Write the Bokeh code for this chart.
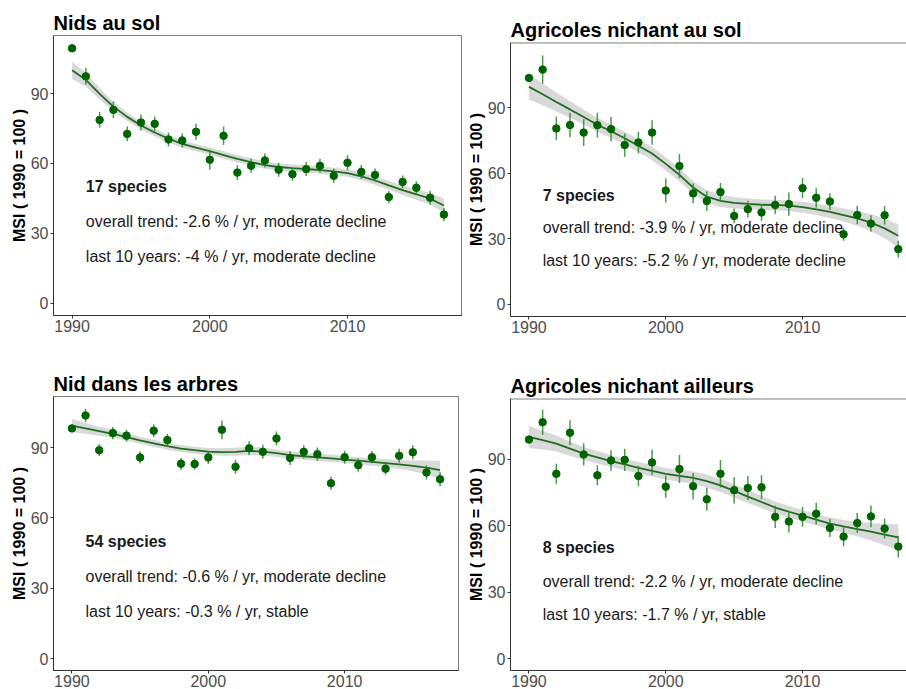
from bokeh.plotting import figure
from bokeh.layouts import column, row
from bokeh.models import Range1d, FixedTicker, Span
from bokeh.core.properties import value
from bokeh.embed import file_html
from bokeh.resources import INLINE

# ---------------- data ----------------
years = [1990, 1991, 1992, 1993, 1994, 1995, 1996, 1997, 1998, 1999,
         2000, 2001, 2002, 2003, 2004, 2005, 2006, 2007, 2008, 2009,
         2010, 2011, 2012, 2013, 2014, 2015, 2016, 2017]
x_ticks = [1990, 2000, 2010]
y_ticks = [0, 30, 60, 90]

titles = ["Nids au sol", "Agricoles nichant au sol",
          "Nid dans les arbres", "Agricoles nichant ailleurs"]

msi1 = [109.4, 97.4, 78.7, 83.0, 72.7, 77.6, 77.0, 70.3, 69.9, 73.6, 61.6, 71.9, 56.1, 59.0,
        61.3, 57.3, 55.4, 57.6, 59.0, 54.7, 60.3, 56.4, 55.1, 45.6, 52.1, 49.6, 45.3, 38.1]
err1 = [0, 3.6, 3.4, 3.6, 3.2, 3.4, 3.2, 3.0, 3.0, 3.4, 4.3, 4.0, 3.2, 3.0,
        3.0, 3.0, 2.8, 3.0, 3.0, 3.0, 3.2, 3.0, 2.8, 2.6, 2.8, 2.8, 3.0, 2.8]
smooth1 = [100.0, 95.9, 89.9, 84.4, 80.0, 76.3, 73.3, 70.6, 68.4, 66.8, 65.3, 63.6, 62.0, 60.6,
           59.3, 58.5, 58.0, 57.6, 57.2, 56.6, 55.9, 54.5, 52.7, 50.6, 48.6, 46.8, 44.9, 42.0]
band1 = [3.6, 3.0, 2.5, 2.1, 1.8, 1.7, 1.6, 1.6, 1.6, 1.6, 1.6, 1.6, 1.6, 1.6,
         1.6, 1.6, 1.6, 1.6, 1.6, 1.6, 1.6, 1.7, 1.8, 1.9, 2.1, 2.3, 2.6, 3.0]

msi2 = [103.6, 107.4, 80.5, 82.1, 78.6, 82.0, 80.2, 72.9, 74.1, 78.6, 52.1, 63.3, 50.8, 47.3,
        51.4, 40.5, 43.6, 42.1, 45.5, 45.9, 53.2, 48.8, 47.1, 32.1, 40.9, 37.0, 40.8, 25.3]
err2 = [0, 6.5, 5.3, 5.6, 6.1, 5.7, 5.7, 5.3, 4.9, 5.6, 5.5, 5.5, 4.5, 4.5,
        4.2, 3.4, 3.8, 3.8, 4.2, 5.3, 4.6, 4.4, 3.8, 3.0, 4.2, 3.8, 4.2, 3.8]
smooth2 = [99.5, 96.1, 92.6, 89.2, 85.7, 82.2, 79.2, 76.0, 72.6, 69.0, 64.3, 59.3, 53.5, 49.3,
           47.4, 46.5, 46.0, 45.6, 45.5, 45.2, 44.5, 43.5, 42.3, 40.9, 39.4, 37.4, 34.8, 31.4]
band2 = [5.9, 5.0, 4.3, 3.8, 3.4, 3.2, 3.1, 3.0, 3.0, 3.0, 3.0, 3.0, 3.0, 2.9,
         2.8, 2.6, 2.5, 2.4, 2.4, 2.4, 2.5, 2.6, 2.8, 3.0, 3.4, 3.9, 4.5, 5.3]

msi3 = [98.2, 103.7, 88.9, 96.2, 95.1, 85.8, 97.2, 93.2, 83.1, 83.0, 85.8, 97.6, 81.8, 89.7,
        88.2, 93.9, 85.6, 88.2, 87.2, 74.8, 85.9, 82.5, 85.9, 81.0, 86.5, 88.0, 79.4, 76.5]
err3 = [0, 2.8, 2.5, 2.6, 2.5, 2.5, 2.8, 2.6, 2.5, 2.5, 2.8, 4.0, 3.0, 3.0,
        3.0, 3.0, 3.0, 2.8, 2.8, 2.8, 2.8, 2.8, 2.6, 2.6, 3.0, 3.0, 3.0, 3.0]
smooth3 = [99.4, 98.2, 97.0, 95.9, 94.5, 93.1, 91.8, 90.6, 89.6, 88.9, 88.3, 88.1, 88.2, 88.6,
           88.3, 87.6, 86.8, 86.3, 85.8, 85.4, 84.9, 84.4, 83.9, 83.4, 82.8, 82.2, 81.5, 80.4]
band3 = [2.8, 2.3, 1.9, 1.7, 1.6, 1.5, 1.5, 1.5, 1.5, 1.5, 1.5, 1.6, 1.7, 1.8,
         1.7, 1.6, 1.5, 1.5, 1.5, 1.5, 1.5, 1.5, 1.6, 1.7, 1.9, 2.3, 3.0, 3.9]

msi4 = [98.8, 106.6, 83.4, 101.9, 92.1, 82.7, 89.4, 89.7, 82.4, 88.5, 77.6, 85.5, 77.8, 71.9,
        83.4, 76.0, 77.0, 77.3, 64.0, 61.9, 64.0, 65.4, 59.0, 55.1, 61.2, 64.2, 58.7, 50.6]
err4 = [0, 5.6, 4.5, 5.6, 5.0, 4.5, 4.6, 5.0, 4.6, 5.7, 5.0, 6.3, 6.0, 5.2,
        6.2, 6.0, 5.4, 5.4, 5.0, 4.9, 4.5, 4.9, 4.1, 4.2, 4.5, 4.9, 4.5, 4.9]
smooth4 = [100.0, 98.5, 97.0, 94.7, 92.5, 90.8, 89.1, 87.6, 86.1, 84.7, 83.4, 82.5, 81.6, 80.1,
           78.2, 75.7, 73.1, 70.7, 68.2, 66.3, 64.5, 62.7, 61.0, 59.7, 58.5, 57.3, 56.0, 54.8]
band4 = [5.0, 4.2, 3.6, 3.2, 3.0, 2.8, 2.7, 2.6, 2.6, 2.6, 2.6, 2.7, 2.8, 3.0,
         3.0, 3.0, 2.9, 2.8, 2.7, 2.6, 2.6, 2.6, 2.7, 2.9, 3.3, 3.9, 4.8, 5.8]

species = ["17 species", "7 species", "54 species", "8 species"]
trend_overall = ["overall trend: -2.6 % / yr, moderate decline",
                 "overall trend: -3.9 % / yr, moderate decline",
                 "overall trend: -0.6 % / yr, moderate decline",
                 "overall trend: -2.2 % / yr, moderate decline"]
trend_last10 = ["last 10 years: -4 % / yr, moderate decline",
                "last 10 years: -5.2 % / yr, moderate decline",
                "last 10 years: -0.3 % / yr, stable",
                "last 10 years: -1.7 % / yr, stable"]

FONT = "Liberation Sans"


def panel(i, msi, err, smooth, band, y_lo, y_hi, x_hi, width, height,
          mbl, mbr, mbt, mbb, full_outline):
    p = figure(width=width, height=height, output_backend="svg", toolbar_location=None,
               x_range=Range1d(1988.65, x_hi), y_range=Range1d(y_lo, y_hi),
               min_border_left=mbl, min_border_right=mbr,
               min_border_top=mbt, min_border_bottom=mbb)
    p.frame_align = False
    p.background_fill_color = "white"
    p.border_fill_color = "white"
    p.xgrid.visible = False
    p.ygrid.visible = False
    if full_outline:
        p.outline_line_color = "#7f7f7f"
        p.outline_line_width = 1
    else:
        p.outline_line_color = None
        p.add_layout(Span(location=y_hi, dimension="width", line_color="#7f7f7f", line_width=2))

    p.title.text = titles[i]
    p.title.text_font = FONT
    p.title.text_font_size = "20px"
    p.title.text_font_style = "bold"
    p.title.text_color = "black"
    p.title.align = "left"
    p.title.offset = 0
    p.title.standoff = 3

    for ax in (p.xaxis[0], p.yaxis[0]):
        ax.axis_line_color = "#333333"
        ax.axis_line_width = 1
        ax.major_tick_line_color = "#333333"
        ax.major_tick_out = 3
        ax.major_tick_in = 0
        ax.minor_tick_line_color = None
        ax.major_label_text_font = FONT
        ax.major_label_text_font_size = "16px"
        ax.major_label_text_color = "#4d4d4d"
        ax.major_label_standoff = 2
    p.xaxis[0].major_label_standoff = 1
    p.xaxis.ticker = FixedTicker(ticks=x_ticks)
    p.yaxis.ticker = FixedTicker(ticks=y_ticks)
    p.yaxis.axis_label = "MSI ( 1990 = 100 )"
    p.yaxis.axis_label_text_font = FONT
    p.yaxis.axis_label_text_font_size = "16px"
    p.yaxis.axis_label_text_font_style = "bold"
    p.yaxis.axis_label_text_color = "black"
    p.yaxis.axis_label_standoff = 0

    lo = [s - b for s, b in zip(smooth, band)]
    hi = [s + b for s, b in zip(smooth, band)]
    p.varea(x=years, y1=lo, y2=hi, fill_color="#cfcfcf", fill_alpha=0.8)
    p.line(x=years, y=smooth, line_color="#1f6e1f", line_width=1.8)
    e_lo = [m - e for m, e in zip(msi, err)]
    e_hi = [m + e for m, e in zip(msi, err)]
    p.segment(x0=years, y0=e_lo, x1=years, y1=e_hi, line_color="#2a8a2a",
              line_width=1.5, line_alpha=0.85)
    p.scatter(x=years, y=msi, size=7.5, fill_color="#006400", line_color="#006400")

    p.text(x=[1991], y=[50], text=[species[i]], text_font=value(FONT),
           text_font_size="16px", text_font_style="bold", text_color="#1a1a1a",
           text_baseline="middle", text_align="left")
    p.text(x=[1991, 1991], y=[35, 20], text=[trend_overall[i], trend_last10[i]],
           text_font=value(FONT), text_font_size="16px", text_color="#1a1a1a",
           text_baseline="middle", text_align="left")
    return p


f1 = panel(0, msi1, err1, smooth1, band1, -5.2, 114.9, 2018.35, 462, 355, 53, 0, 35, 40, True)
f2 = panel(1, msi2, err2, smooth2, band2, -5.5, 119.8, 2017.6, 444, 355, 48, 0, 42, 39, False)
f3 = panel(2, msi3, err3, smooth3, band3, -5.1, 111.8, 2018.35, 462, 334, 53, 4, 41, 0, True)
f4 = panel(3, msi4, err4, smooth4, band4, -5.2, 117.3, 2017.6, 444, 334, 48, 0, 43, 0, False)

layout = column(row(f1, f2), row(f3, f4))
open("out.html", "w").write(file_html(layout, INLINE))
